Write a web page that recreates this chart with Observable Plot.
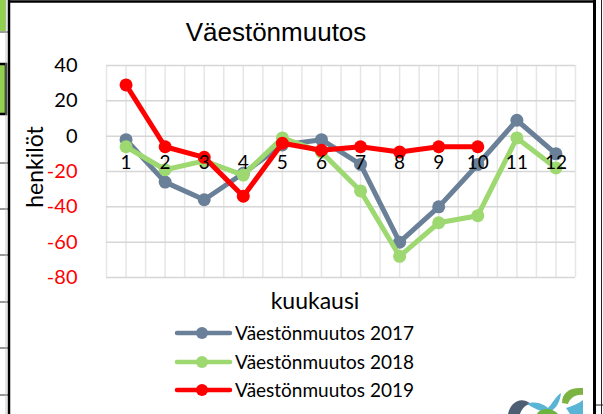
<!DOCTYPE html>
<html><head><meta charset="utf-8">
<script src="https://cdn.jsdelivr.net/npm/d3@7"></script>
<script src="https://cdn.jsdelivr.net/npm/@observablehq/plot@0.6"></script>
<style>
html,body{margin:0;padding:0;background:#fff;}
#chart{position:relative;width:603px;height:414px;overflow:hidden;}
</style>
</head><body><div id="chart"></div>
<script>
const months = [1,2,3,4,5,6,7,8,9,10,11,12];
const v2017 = [-2,-26,-36,-21,-5,-2,-16,-60,-40,-16,9,-10];
const v2018 = [-6,-19,-14,-22,-1,-9,-31,-68,-49,-45,-1,-18];
const v2019 = [29,-6,-12,-34,-4,-8,-6,-9,-6,-6,null,null];
const seriesNames = ["Väestönmuutos 2017","Väestönmuutos 2018","Väestönmuutos 2019"];
const seriesColors = ["#6a8098","#9dd870","#ff0000"];
const yTicks = [40,20,0,-20,-40,-60,-80];
const chartTitle = "Väestönmuutos";
const xTitle = "kuukausi";
const yTitle = "henkilöt";

const seriesValues = [v2017, v2018, v2019];
const rows = seriesValues.flatMap((vals, si) =>
  months.map((m, i) => ({month: m, value: vals[i], series: seriesNames[si]})).filter(d => d.value != null));
const gridX = months.flatMap(m => [m - 0.5, m]).concat([months[months.length-1] + 0.5]);

const font = "Lato, 'Open Sans', sans-serif";

const marks = [
  Plot.ruleX(gridX, {x: d => d, y1: yTicks[yTicks.length-1], y2: yTicks[0], stroke: "#e6e6e6", strokeWidth: 1.5}),
  Plot.ruleY(yTicks, {y: d => d, x1: 0.5, x2: 12.5, stroke: "#d6d6d6", strokeWidth: 1.5}),
];
seriesNames.forEach((name, si) => {
  const data = rows.filter(d => d.series === name);
  marks.push(Plot.line(data, {x: "month", y: "value", stroke: seriesColors[si], strokeWidth: 5, strokeLinejoin: "round", strokeLinecap: "round"}));
  marks.push(Plot.dot(data, {x: "month", y: "value", fill: seriesColors[si], r: 6.5, stroke: "none"}));
});
marks.push(Plot.text(months, {x: d => d, y: () => 0, dy: 27, text: d => String(d), fontSize: 19, fill: "#000", fontFamily: font}));
marks.push(Plot.text(yTicks.filter(d => d >= 0), {x: () => 0.5, y: d => d, dx: -29, text: d => String(d), textAnchor: "end", fontSize: 20, fill: "#000", fontFamily: font}));
marks.push(Plot.text(yTicks.filter(d => d < 0), {x: () => 0.5, y: d => d, dx: -29, text: d => String(d), textAnchor: "end", fontSize: 20, fill: "#ff0000", fontFamily: font}));

const plot = Plot.plot({
  width: 603, height: 414,
  marginLeft: 106, marginRight: 28, marginTop: 65, marginBottom: 137,
  x: {type: "linear", domain: [0.5, 12.5], axis: null},
  y: {domain: [-80, 40], axis: null},
  style: {background: "#fff", fontFamily: font, overflow: "visible"},
  marks
});
document.getElementById("chart").appendChild(plot);

const svg = d3.select(plot);
// title and axis titles
svg.append("text").attr("x", 276).attr("y", 41).attr("text-anchor", "middle")
  .attr("font-family", "'Liberation Sans', Arial, sans-serif").attr("font-size", 26).attr("fill", "#000").text(chartTitle);
svg.append("text").attr("x", 315).attr("y", 309).attr("text-anchor", "middle")
  .attr("font-family", font).attr("font-size", 23).attr("fill", "#000").text(xTitle);
svg.append("text").attr("transform", "translate(43,167) rotate(-90)").attr("text-anchor", "middle")
  .attr("font-family", font).attr("font-size", 23).attr("fill", "#000").text(yTitle);

// legend
const legY = [333, 362, 390];
seriesNames.forEach((name, i) => {
  const g = svg.append("g").attr("transform", `translate(0,${legY[i]})`);
  g.append("line").attr("x1", 177).attr("x2", 230).attr("y1", 0).attr("y2", 0)
    .attr("stroke", seriesColors[i]).attr("stroke-width", 4.5).attr("stroke-linecap", "round");
  g.append("circle").attr("cx", 202).attr("cy", 0).attr("r", 6).attr("fill", seriesColors[i]);
  g.append("text").attr("x", 235).attr("y", 0).attr("dy", "0.35em").attr("text-anchor", "start")
    .attr("font-family", font).attr("font-size", 19).attr("fill", "#000").text(name);
});

// spreadsheet frame decorations
const deco = svg.append("g");
deco.append("rect").attr("x", 0).attr("y", 0).attr("width", 6).attr("height", 31).attr("fill", "#92d050");
deco.append("line").attr("x1", 0).attr("x2", 8).attr("y1", 32).attr("y2", 32).attr("stroke", "#333").attr("stroke-width", 1);
deco.append("rect").attr("x", -2).attr("y", 64).attr("width", 8).attr("height", 50).attr("fill", "#92d050").attr("stroke", "#000").attr("stroke-width", 2.5);
[163, 209, 255, 302, 348, 395].forEach(y => deco.append("line").attr("x1", 0).attr("x2", 8).attr("y1", y).attr("y2", y).attr("stroke", "#333").attr("stroke-width", 1));
deco.append("line").attr("x1", 6).attr("x2", 6).attr("y1", 0).attr("y2", 414).attr("stroke", "#bbb").attr("stroke-width", 0.8);
deco.append("line").attr("x1", 9).attr("x2", 9).attr("y1", 0).attr("y2", 414).attr("stroke", "#000").attr("stroke-width", 2.5);
deco.append("line").attr("x1", 9).attr("x2", 595).attr("y1", 1.5).attr("y2", 1.5).attr("stroke", "#000").attr("stroke-width", 2.5);
deco.append("line").attr("x1", 594.5).attr("x2", 594.5).attr("y1", 0).attr("y2", 414).attr("stroke", "#000").attr("stroke-width", 3);
deco.append("line").attr("x1", 601.5).attr("x2", 601.5).attr("y1", 0).attr("y2", 414).attr("stroke", "#222").attr("stroke-width", 1);
deco.append("line").attr("x1", 596).attr("x2", 603).attr("y1", 405).attr("y2", 405).attr("stroke", "#222").attr("stroke-width", 1);

// logo approximation
const logo = svg.append("g");
logo.append("path").attr("d", "M508,414 C510,404 518,398 526,401 L532,404 C526,404 522,408 520,414 Z").attr("fill", "#4f5f73");
logo.append("path").attr("d", "M527,404 C536,400 545,405 548,408 C552,404 556,396 561,393 C560,402 556,410 548,412 C540,412 534,408 527,404 Z").attr("fill", "#5ab4d6");
logo.append("path").attr("d", "M537,414 C540,408 552,407 558,414 Z").attr("fill", "#6db33f");
logo.append("path").attr("d", "M562,403 C562,394 568,388 580,388 L583,388 L583,395 C576,394 570,398 568,404 Z").attr("fill", "#7cb342");
logo.append("path").attr("d", "M566,408 C572,406 578,404 583,400 L583,414 L570,414 Z").attr("fill", "#5ab4d6");
</script>
</body></html>
